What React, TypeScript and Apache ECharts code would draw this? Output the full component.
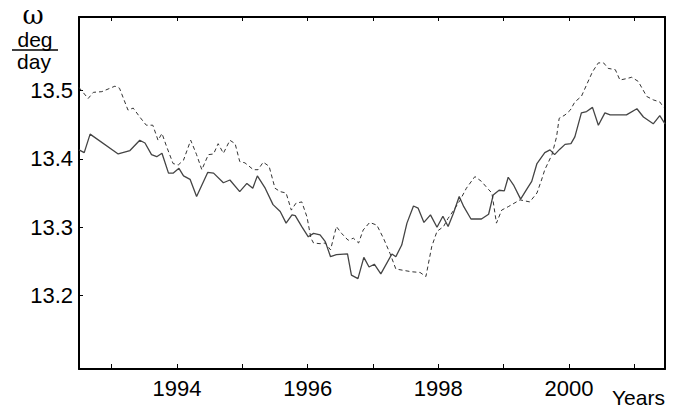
import React, { useEffect, useRef } from "react";
import * as echarts from "echarts";

const solidT = [1992.5,1992.58,1992.67,1993.1,1993.28,1993.43,1993.51,1993.61,1993.69,1993.77,1993.87,1993.94,1994.03,1994.1,1994.2,1994.3,1994.47,1994.56,1994.71,1994.81,1994.96,1995.07,1995.16,1995.23,1995.35,1995.47,1995.58,1995.67,1995.76,1995.81,1995.91,1996.01,1996.09,1996.19,1996.27,1996.35,1996.44,1996.61,1996.67,1996.77,1996.86,1996.94,1997.02,1997.12,1997.29,1997.35,1997.44,1997.52,1997.62,1997.69,1997.78,1997.88,1997.98,1998.07,1998.15,1998.23,1998.32,1998.39,1998.5,1998.66,1998.77,1998.84,1998.93,1999.01,1999.07,1999.15,1999.26,1999.35,1999.43,1999.51,1999.63,1999.71,1999.78,1999.86,1999.94,2000.03,2000.09,2000.19,2000.27,2000.36,2000.45,2000.55,2000.63,2000.88,2001.04,2001.14,2001.29,2001.39,2001.47];
const solidV = [13.413,13.409,13.436,13.407,13.412,13.427,13.423,13.406,13.403,13.408,13.379,13.379,13.386,13.375,13.37,13.345,13.38,13.379,13.365,13.369,13.352,13.364,13.357,13.375,13.357,13.333,13.323,13.306,13.318,13.317,13.301,13.286,13.291,13.289,13.279,13.257,13.26,13.261,13.23,13.225,13.256,13.242,13.246,13.232,13.261,13.257,13.274,13.306,13.331,13.328,13.307,13.318,13.3,13.316,13.301,13.32,13.345,13.33,13.312,13.312,13.319,13.347,13.354,13.353,13.373,13.362,13.341,13.355,13.367,13.393,13.409,13.413,13.406,13.414,13.421,13.422,13.432,13.467,13.469,13.475,13.449,13.467,13.464,13.464,13.473,13.461,13.451,13.463,13.451];

const dashT = [1992.5,1992.64,1992.72,1992.85,1993.05,1993.12,1993.25,1993.33,1993.43,1993.53,1993.63,1993.71,1993.77,1993.84,1993.94,1994.02,1994.1,1994.21,1994.3,1994.38,1994.48,1994.56,1994.63,1994.71,1994.81,1994.89,1994.96,1995.04,1995.17,1995.24,1995.32,1995.41,1995.5,1995.58,1995.67,1995.75,1995.82,1995.91,1995.99,1996.05,1996.09,1996.19,1996.27,1996.35,1996.44,1996.52,1996.62,1996.7,1996.78,1996.85,1996.95,1997.06,1997.16,1997.26,1997.35,1997.59,1997.72,1997.81,1997.9,1997.98,1998.08,1998.15,1998.23,1998.33,1998.43,1998.56,1998.66,1998.77,1998.82,1998.89,1998.97,1999.07,1999.25,1999.4,1999.51,1999.58,1999.63,1999.74,1999.81,1999.85,1999.94,2000.02,2000.09,2000.19,2000.27,2000.36,2000.45,2000.53,2000.6,2000.71,2000.78,2000.88,2000.96,2001.06,2001.19,2001.29,2001.39,2001.45];
const dashV = [13.504,13.488,13.497,13.498,13.506,13.503,13.471,13.474,13.461,13.449,13.449,13.427,13.437,13.418,13.393,13.391,13.398,13.427,13.406,13.384,13.406,13.407,13.422,13.408,13.427,13.422,13.396,13.394,13.384,13.384,13.395,13.389,13.357,13.352,13.35,13.325,13.335,13.337,13.315,13.284,13.277,13.276,13.277,13.267,13.301,13.291,13.281,13.284,13.277,13.296,13.307,13.303,13.284,13.262,13.239,13.235,13.234,13.228,13.272,13.294,13.301,13.313,13.324,13.339,13.357,13.374,13.367,13.355,13.35,13.306,13.325,13.33,13.34,13.337,13.35,13.369,13.384,13.406,13.432,13.459,13.464,13.471,13.483,13.491,13.508,13.527,13.54,13.54,13.532,13.53,13.515,13.517,13.519,13.513,13.491,13.486,13.483,13.475];

const xTicks = [1993, 1994, 1995, 1996, 1997, 1998, 1999, 2000, 2001];
const xLabels = [1994, 1996, 1998, 2000];
const yLabels = [13.2, 13.3, 13.4, 13.5];

export default function App() {
  const ref = useRef<HTMLDivElement>(null);
  useEffect(() => {
    const chart = echarts.init(ref.current!, undefined, { renderer: "svg" });
    const font = "Liberation Sans, Arial, sans-serif";
    chart.setOption({
      animation: false,
      backgroundColor: "#fff",
      grid: { left: 79, top: 17, right: 26, bottom: 42, containLabel: false },
      xAxis: [
        {
          type: "value", min: 1992.5, max: 2001.47, position: "bottom",
          axisLine: { show: true, lineStyle: { color: "#000", width: 2 } },
          axisTick: { show: true, inside: true, length: 5, customValues: xTicks, lineStyle: { color: "#000", width: 1 } },
          axisLabel: { show: true, customValues: xLabels, color: "#000", fontSize: 22, fontFamily: font, margin: 8, formatter: (v: number) => String(Math.round(v)) },
          splitLine: { show: false },
        },
        {
          type: "value", min: 1992.5, max: 2001.47, position: "top",
          axisLine: { show: true, lineStyle: { color: "#000", width: 2 } },
          axisTick: { show: true, inside: true, length: 4, customValues: xTicks, lineStyle: { color: "#000", width: 1 } },
          axisLabel: { show: false },
          splitLine: { show: false },
        },
      ],
      yAxis: [
        {
          type: "value", min: 13.093, max: 13.607, position: "left",
          axisLine: { show: true, lineStyle: { color: "#000", width: 2 } },
          axisTick: { show: true, inside: true, length: 4, customValues: yLabels, lineStyle: { color: "#000", width: 1 } },
          axisLabel: { show: true, customValues: yLabels, color: "#000", fontSize: 22, fontFamily: font, margin: 6, formatter: (v: number) => v.toFixed(1) },
          splitLine: { show: false },
        },
        {
          type: "value", min: 13.093, max: 13.607, position: "right",
          axisLine: { show: true, lineStyle: { color: "#000", width: 2 } },
          axisTick: { show: false },
          axisLabel: { show: false },
          splitLine: { show: false },
        },
      ],
      series: [
        {
          type: "line", name: "solid", xAxisIndex: 0, yAxisIndex: 0,
          data: solidT.map((t, i) => [t, solidV[i]]),
          showSymbol: false, symbol: "none",
          lineStyle: { color: "#444", width: 1.3, type: "solid" },
        },
        {
          type: "line", name: "dashed", xAxisIndex: 0, yAxisIndex: 0,
          data: dashT.map((t, i) => [t, dashV[i]]),
          showSymbol: false, symbol: "none",
          lineStyle: { color: "#333", width: 1, type: [4, 3] },
        },
      ],
      graphic: [
        { type: "text", x: 33, y: 2, style: { text: "ω", font: "26px 'DejaVu Serif', serif", fill: "#000", align: "center", verticalAlign: "top", lineHeight: 26 } },
        { type: "text", x: 35, y: 30, style: { text: "deg", font: "21px 'Liberation Sans', Arial, sans-serif", fill: "#000", align: "center", verticalAlign: "top", lineHeight: 19 } },
        { type: "line", shape: { x1: 12, y1: 50, x2: 58, y2: 50 }, style: { stroke: "#000", lineWidth: 1.5 } },
        { type: "text", x: 34, y: 51, style: { text: "day", font: "21px 'Liberation Sans', Arial, sans-serif", fill: "#000", align: "center", verticalAlign: "top", lineHeight: 20 } },
        { type: "text", left: 612, top: 387, style: { text: "Years", font: "21px 'Liberation Sans', Arial, sans-serif", fill: "#000" } },
      ],
    });
    return () => chart.dispose();
  }, []);
  return <div ref={ref} style={{ width: 691, height: 411, position: "absolute", left: 0, top: 0 }} />;
}
